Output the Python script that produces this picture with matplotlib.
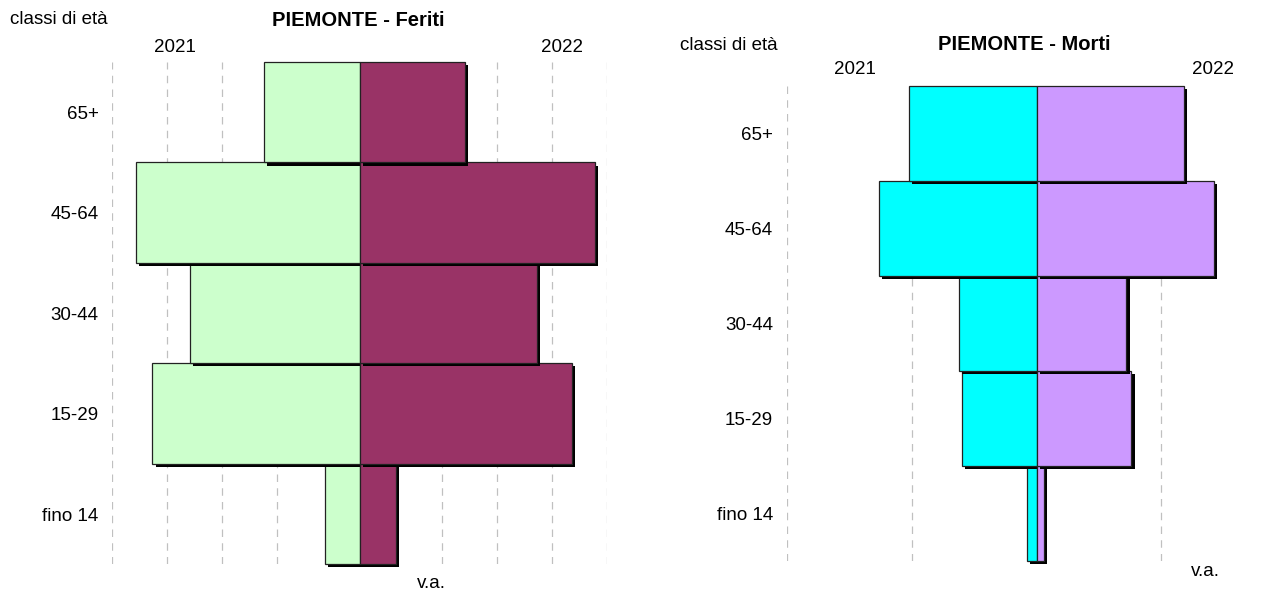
import matplotlib
matplotlib.use("Agg")
import matplotlib.pyplot as plt
import matplotlib.patheffects as pe
import numpy as np

plt.rcParams['font.family'] = ['Liberation Sans', 'DejaVu Sans']

# data
classi = ["fino 14", "15-29", "30-44", "45-64", "65+"]

feriti_2021 = [630, 3770, 3080, 4070, 1740]
feriti_2022 = [650, 3865, 3220, 4275, 1915]

morti_2021 = [4, 30, 31, 63, 51]
morti_2022 = [3, 38, 36, 71, 59]

W, H = 1276, 596
fig = plt.figure(figsize=(W / 100, H / 100), dpi=100)

FS = 13.5
shadow = [pe.SimplePatchShadow(offset=(2.2, -2.2), shadow_rgbFace='black', alpha=1.0), pe.Normal()]


def px(x, y):
    return x / W, 1 - y / H


def pyramid(ax, left, right, c_left, c_right, xlim, grid):
    y = np.arange(len(classi))
    for g in grid:
        ax.axvline(g, color='#c0c0c0', lw=0.9, dashes=(6, 5), zorder=0)
    bl = ax.barh(y, -np.array(left), height=1.0, color=c_left, edgecolor='#222222', lw=0.9, zorder=2)
    br = ax.barh(y, right, height=1.0, color=c_right, edgecolor='#222222', lw=0.9, zorder=3)
    for b in list(bl) + list(br):
        b.set_path_effects(shadow)
        b.set_clip_on(False)
    ax.set_xlim(*xlim)
    ax.set_ylim(-0.5, len(classi) - 0.5)
    ax.set_yticks(y, classi, fontsize=FS)
    ax.tick_params(axis='y', length=0, pad=10)
    ax.set_xticks([])
    for s in ax.spines.values():
        s.set_visible(False)


# Feriti
ax1 = fig.add_axes([112.3 / W, 1 - 564.3 / H, (607.3 - 112.3) / W, (564.3 - 62) / H])
pyramid(ax1, feriti_2021, feriti_2022, '#CCFFCC', '#993366',
        (-4500, 4500), np.arange(-4500, 4501, 1000))

# Morti
ax2 = fig.add_axes([787 / W, 1 - 561.3 / H, (W - 787) / W, (561.3 - 85.7) / H])
pyramid(ax2, morti_2021, morti_2022, '#00FFFF', '#CC99FF',
        (-100, 95.9), [-100, -50, 0, 50])

# texts
fig.text(*px(10, 20), "classi di età", fontsize=FS, ha='left', va='center')
fig.text(*px(358, 20), "PIEMONTE - Feriti", fontsize=14.5, fontweight='bold', ha='center', va='center')
fig.text(*px(175, 47), "2021", fontsize=FS, ha='center', va='center')
fig.text(*px(562, 47), "2022", fontsize=FS, ha='center', va='center')
fig.text(*px(431, 583), "v.a.", fontsize=FS, ha='center', va='center')

fig.text(*px(680, 45), "classi di età", fontsize=FS, ha='left', va='center')
fig.text(*px(1024, 45), "PIEMONTE - Morti", fontsize=14.5, fontweight='bold', ha='center', va='center')
fig.text(*px(855, 70), "2021", fontsize=FS, ha='center', va='center')
fig.text(*px(1213, 70), "2022", fontsize=FS, ha='center', va='center')
fig.text(*px(1205, 572), "v.a.", fontsize=FS, ha='center', va='center')

fig.savefig("out.png", dpi=100)
